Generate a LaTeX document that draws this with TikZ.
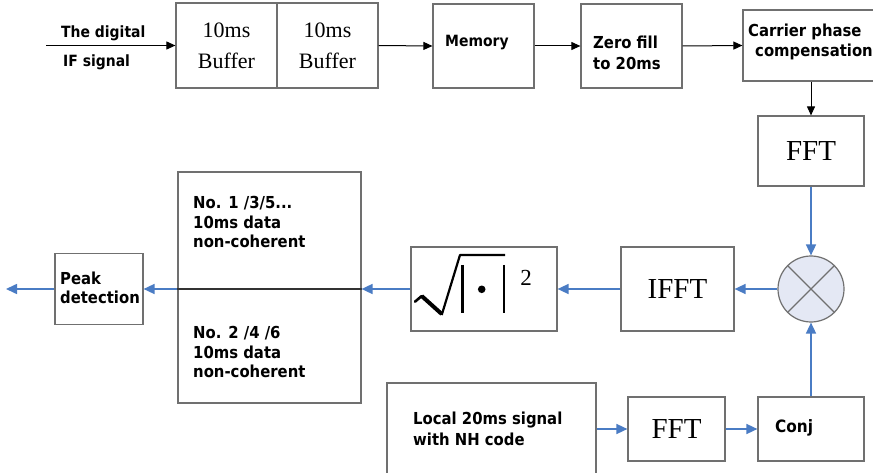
\documentclass[tikz,border=0pt]{standalone}
\usepackage{fontspec}
\setmainfont{Liberation Serif}
\newfontfamily\bsf[FakeStretch=0.9]{DejaVu Sans}
\usetikzlibrary{arrows.meta}
\definecolor{bl}{HTML}{4A7CC4}
\definecolor{bx}{HTML}{707070}
\definecolor{cf}{HTML}{E4E8F4}
\begin{document}
\begin{tikzpicture}[x=1pt,y=-1pt,
  box/.style={draw=bx, line width=1.2pt, inner sep=0pt},
  bt/.style={font=\bsf\bfseries\fontsize{15.5}{20}\selectfont, align=left, inner sep=0pt},
  bt2/.style={font=\bsf\bfseries\fontsize{16.5}{19.5}\selectfont, align=left, inner sep=0pt},
  bt3/.style={font=\bsf\bfseries\fontsize{16.5}{21}\selectfont, align=left, inner sep=0pt},
  sr/.style={font=\fontsize{22}{31}\selectfont, align=center},
  sb/.style={font=\fontsize{29}{30}\selectfont, inner sep=0pt},
  barr/.style={draw=bl, line width=1.6pt, -{Triangle[length=11pt,width=10pt]}},
  karr/.style={draw=black, line width=1pt, -{Triangle[length=9pt,width=8pt]}}]
\useasboundingbox (0,0) rectangle (873,473);
\fill[white] (0,0) rectangle (873,473);

% top row
\node[box, sr, minimum width=101, minimum height=85] (buf1) at (226.5,45.5) {10ms\\Buffer};
\node[box, sr, minimum width=101, minimum height=85] (buf2) at (327.5,45.5) {10ms\\Buffer};
\node[box, minimum width=101, minimum height=84] (mem) at (483.5,46) {};
\node[bt, anchor=west] (memt) at (445,43) {Memory};
\node[box, minimum width=101, minimum height=84] (zero) at (631.5,46) {};
\node[bt3, anchor=west] (zerot1) at (593,42) {Zero fill};
\node[bt3, anchor=west] (zerot2) at (593,63) {to 20ms};
\node[box, minimum width=146, minimum height=71] (car) at (816,45.5) {};
\node[bt3, anchor=west] (cart1) at (748,32) {Carrier phase};
\node[bt3, anchor=west] (cart2) at (755,52) {compensation};

\coordinate (in) at (46,45.5);
\node[bt, anchor=west] (lab1) at (61,33) {The digital};
\node[bt, anchor=west] (lab2) at (63,62) {IF signal};
\draw[karr] (in) -- (buf1.west);
\draw[karr] (buf2.east) -- (mem.west);
\draw[karr] (mem.east) -- (zero.west);
\draw[karr] (zero.east) -- (car.west);

% right column
\node[box, sb, minimum width=106, minimum height=70] (fft1) at (811,151) {FFT};
\draw[karr] (car.south -| fft1.north) -- (fft1.north);
\node[circle, draw=bx, fill=cf, line width=1.2pt, minimum size=66, inner sep=0pt] (mul) at (811,289) {};
\draw[bx, line width=1.2pt] (mul.north east) -- (mul.south west) (mul.north west) -- (mul.south east);
\draw[barr] (fft1.south) -- (mul.north);

% middle row
\node[box, sb, minimum width=113, minimum height=84] (ifft) at (677.5,289) {IFFT};
\node[box, minimum width=146, minimum height=84] (sq) at (484,289) {};
\draw[line width=2.6pt, line join=round, line cap=round] (415,301.7) -- (421.7,296);
\draw[line width=4pt, line join=round] (421.7,296) -- (441.7,314);
\draw[line width=2.2pt, line join=round] (441.7,315) -- (460,255) -- (505,255);
\draw[line width=2.6pt] (462.7,265) -- (462.7,312.7);
\draw[line width=2.6pt] (504,265) -- (504,312.7);
\fill (481.7,289.3) circle (3.8);
\node[font=\fontsize{23}{23}\selectfont, inner sep=0pt] (sq2) at (526,278) {2};

\node[box, minimum width=183, minimum height=231] (big) at (269.5,287.5) {};
\node[bt2, anchor=west] (n1) at (193,222) {No. 1 /3/5...\\10ms data\\non-coherent};
\node[bt2, anchor=west] (n2) at (193,352) {No. 2 /4 /6\\10ms data\\non-coherent};
\draw[draw=black!80, line width=1.2pt] (big.west |- sq.west) -- (big.east |- sq.west);

\node[box, minimum width=88, minimum height=71] (peak) at (99,289) {};
\node[bt2, anchor=west] (peakt) at (60,288) {Peak\\detection};
\coordinate (out) at (6,289);

\draw[barr] (mul.west) -- (ifft.east);
\draw[barr] (ifft.west) -- (sq.east);
\draw[barr] (sq.west) -- (big.east |- sq.west);
\draw[barr] (big.west |- sq.west) -- (peak.east);
\draw[barr] (peak.west) -- (out);

% bottom row
\node[box, minimum width=209, minimum height=120] (local) at (491.5,443) {};
\node[bt3, anchor=west] (loct) at (413,428.5) {Local 20ms signal\\with NH code};
\node[box, sb, minimum width=97, minimum height=64] (fft2) at (676.5,429) {FFT};
\node[box, minimum width=106, minimum height=64] (conj) at (811,429) {};
\node[bt, font=\bsf\bfseries\fontsize{17}{20}\selectfont, anchor=west] (conjt) at (775,428) {Conj};
\draw[barr] (local.east |- fft2.west) -- (fft2.west);
\draw[barr] (fft2.east) -- (conj.west);
\draw[barr] (conj.north) -- (mul.south);
\end{tikzpicture}
\end{document}
